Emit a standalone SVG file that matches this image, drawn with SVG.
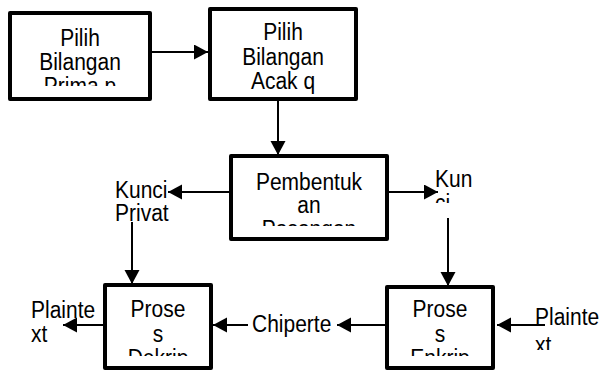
<svg xmlns="http://www.w3.org/2000/svg" width="600" height="372" viewBox="0 0 600 372">
<style>
.box{fill:#fff;stroke:#000;stroke-width:4;stroke-linejoin:round}
.t{font-family:"Liberation Sans",Arial,sans-serif;font-size:21px;fill:#000}
.c{text-anchor:middle}
.ln{stroke:#000;stroke-width:2;fill:none;marker-end:url(#ah)}
</style>
<defs>
<marker id="ah" markerUnits="userSpaceOnUse" markerWidth="16" markerHeight="16" refX="14" refY="7.5" orient="auto">
<path d="M0,0 L14,7.5 L0,15 z" fill="#000"/>
</marker>
<clipPath id="c1"><rect x="12" y="15" width="136" height="71"/></clipPath>
<clipPath id="c2"><rect x="212" y="11" width="142" height="84"/></clipPath>
<clipPath id="c3"><rect x="233" y="158" width="152" height="68"/></clipPath>
<clipPath id="c4"><rect x="389" y="289" width="102" height="67"/></clipPath>
<clipPath id="c5"><rect x="107" y="287" width="102" height="69"/></clipPath>
<clipPath id="ck"><rect x="100" y="170" width="80" height="52"/></clipPath>
<clipPath id="ck2"><rect x="430" y="165" width="60" height="38"/></clipPath>
<clipPath id="cp"><rect x="520" y="300" width="80" height="50"/></clipPath>
</defs>
<g id="connectors">
<line class="ln" x1="152" y1="52" x2="208" y2="52"/>
<line class="ln" x1="278" y1="101" x2="278" y2="155"/>
<line class="ln" x1="229" y1="192" x2="168" y2="192"/>
<line class="ln" x1="389" y1="192" x2="438" y2="192"/>
<line class="ln" x1="132" y1="222" x2="132" y2="284"/>
<line class="ln" x1="448" y1="218" x2="448" y2="286"/>
<line class="ln" x1="103" y1="325" x2="63" y2="325"/>
<line class="ln" x1="248" y1="325" x2="213" y2="325"/>
<line class="ln" x1="385" y1="325" x2="337" y2="325"/>
<line class="ln" x1="545" y1="325" x2="497" y2="325"/>
</g>
<g id="n1">
<rect class="box" x="10" y="13" width="140" height="86"/>
<g clip-path="url(#c1)"><text class="t c" transform="scale(1,1.12)"><tspan x="80" y="41.07">Pilih</tspan><tspan x="80" y="62.5">Bilangan</tspan><tspan x="80" y="83.93">Prima p</tspan></text></g>
</g>
<g id="n2">
<rect class="box" x="210" y="9" width="146" height="90"/>
<g clip-path="url(#c2)"><text class="t c" transform="scale(1,1.12)"><tspan x="283" y="35.71">Pilih</tspan><tspan x="283" y="58.04">Bilangan</tspan><tspan x="283" y="79.46">Acak q</tspan></text></g>
</g>
<g id="n3">
<rect class="box" x="231" y="156" width="156" height="83"/>
<g clip-path="url(#c3)"><text class="t c" transform="scale(1,1.12)"><tspan x="309" y="169.64">Pembentuk</tspan><tspan x="309" y="190.18">an</tspan><tspan x="309" y="211.61">Pasangan</tspan></text></g>
</g>
<g id="kunci-privat">
<g clip-path="url(#ck)"><text class="t" transform="scale(1,1.12)"><tspan x="115" y="176.79">Kunci</tspan><tspan x="115" y="197.32">Privat</tspan></text></g>
</g>
<g id="kunci-publik">
<g clip-path="url(#ck2)"><text class="t" transform="scale(1,1.12)"><tspan x="435" y="166.96">Kun</tspan><tspan x="435" y="188.39">ci</tspan></text></g>
</g>
<g id="n5">
<rect class="box" x="105" y="285" width="106" height="83"/>
<g clip-path="url(#c5)"><text class="t c" transform="scale(1,1.12)"><tspan x="158" y="283.04">Prose</tspan><tspan x="158" y="305.36">s</tspan><tspan x="158" y="326.79">Dekrip</tspan></text></g>
</g>
<g id="n4">
<rect class="box" x="387" y="287" width="106" height="81"/>
<g clip-path="url(#c4)"><text class="t c" transform="scale(1,1.12)"><tspan x="440" y="283.04">Prose</tspan><tspan x="440" y="305.36">s</tspan><tspan x="440" y="326.79">Enkrip</tspan></text></g>
</g>
<g id="plaintext-out">
<text class="t" transform="scale(1,1.12)"><tspan x="31" y="283.93">Plainte</tspan><tspan x="31" y="305.36">xt</tspan></text>
</g>
<g id="chipertext">
<text class="t" transform="scale(1,1.12)" x="252" y="296.43">Chiperte</text>
</g>
<g id="plaintext-in">
<g clip-path="url(#cp)"><text class="t" transform="scale(1,1.12)"><tspan x="535" y="290.18">Plainte</tspan><tspan x="535" y="315.18">xt</tspan></text></g>
</g>
</svg>
